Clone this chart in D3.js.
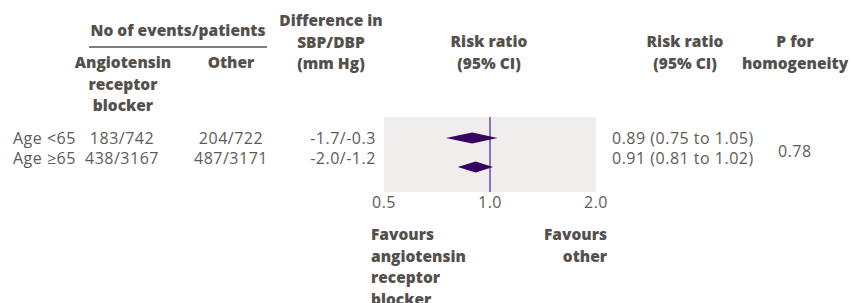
<!DOCTYPE html>
<html>
<head>
<meta charset="utf-8">
<script src="https://cdn.jsdelivr.net/npm/d3@7"></script>
<style>
  body { margin: 0; background: #fff; }
  svg { display: block; }
  .hdr { font-family: "Open Sans", sans-serif; font-weight: 800; font-size: 15.5px; fill: #55504c; }
  .cell { font-family: "Open Sans", sans-serif; font-size: 16px; letter-spacing: 0.5px; fill: #5f5a56; }
</style>
</head>
<body>
<svg id="chart" width="851" height="303"></svg>
<script>
// rows of the forest plot
const groups = ["Age <65", "Age \u226565"];
const eventsArb = ["183/742", "438/3167"];
const eventsOther = ["204/722", "487/3171"];
const bpDiff = ["-1.7/-0.3", "-2.0/-1.2"];
const rr = [0.89, 0.91];
const rrLow = [0.75, 0.81];
const rrHigh = [1.05, 1.02];
const rrText = ["0.89 (0.75 to 1.05)", "0.91 (0.81 to 1.02)"];
const pHomogeneity = "0.78";
const ticks = [0.5, 1.0, 2.0];

const svg = d3.select("#chart");

const x = d3.scaleLog().domain([0.5, 2]).range([384, 596]);
// diamond centres and text baselines per row
const yMark = d3.scalePoint().domain(d3.range(groups.length)).range([138, 167]);
const yText = d3.scalePoint().domain(d3.range(groups.length)).range([144, 164]);

// multi-line header helper
function header(lines, cx, y0, anchor) {
    const t = svg.append("text").attr("class", "hdr")
        .attr("text-anchor", anchor || "middle");
    lines.forEach((l, i) => {
        t.append("tspan").attr("x", cx).attr("y", y0 + i * 21.5).text(l);
    });
    return t;
}

header(["No of events/patients"], 178, 36);
svg.append("line")
    .attr("x1", 89).attr("x2", 267).attr("y1", 47).attr("y2", 47)
    .attr("stroke", "#55504c").attr("stroke-width", 1.5);
header(["Angiotensin", "receptor", "blocker"], 123, 68);
header(["Other"], 231, 68);
header(["Difference in", "SBP/DBP", "(mm Hg)"], 331, 26);
header(["Risk ratio", "(95% CI)"], 489, 47);
header(["Risk ratio", "(95% CI)"], 685, 47);
header(["P for", "homogeneity"], 795, 47);

// plot panel
svg.append("rect")
    .attr("x", x(0.5)).attr("y", 117)
    .attr("width", x(2) - x(0.5)).attr("height", 75)
    .attr("fill", "#efeeed");

svg.append("line")
    .attr("x1", x(1)).attr("x2", x(1)).attr("y1", 117).attr("y2", 192)
    .attr("stroke", "#7249a6").attr("stroke-width", 1.5);

// diamonds
svg.selectAll(".diamond")
    .data(groups.map((g, i) => i))
    .enter().append("path")
    .attr("class", "diamond")
    .attr("fill", "#370061")
    .attr("d", i => {
        const cy = yMark(i), h = 5.5;
        return `M${x(rrLow[i])},${cy}L${x(rr[i])},${cy - h}L${x(rrHigh[i])},${cy}L${x(rr[i])},${cy + h}Z`;
    });

// axis labels
svg.selectAll(".tick")
    .data(ticks)
    .enter().append("text")
    .attr("class", "cell tick")
    .attr("text-anchor", "middle")
    .attr("x", d => x(d))
    .attr("y", 208)
    .text(d => d3.format(".1f")(d));

// table cells
function column(values, cx, anchor) {
    svg.selectAll(null)
        .data(values)
        .enter().append("text")
        .attr("class", "cell")
        .attr("text-anchor", anchor)
        .attr("x", cx)
        .attr("y", (d, i) => yText(i))
        .text(d => d);
}

column(groups, 13, "start");
column(eventsArb, 122, "middle");
column(eventsOther, 231, "middle");
column(bpDiff, 343, "middle");
column(rrText, 612, "start");

svg.append("text").attr("class", "cell")
    .attr("x", 778).attr("y", 157).text(pHomogeneity);

header(["Favours", "angiotensin", "receptor", "blocker"], 371, 240, "start");
header(["Favours", "other"], 607, 240, "end");
</script>
</body>
</html>
